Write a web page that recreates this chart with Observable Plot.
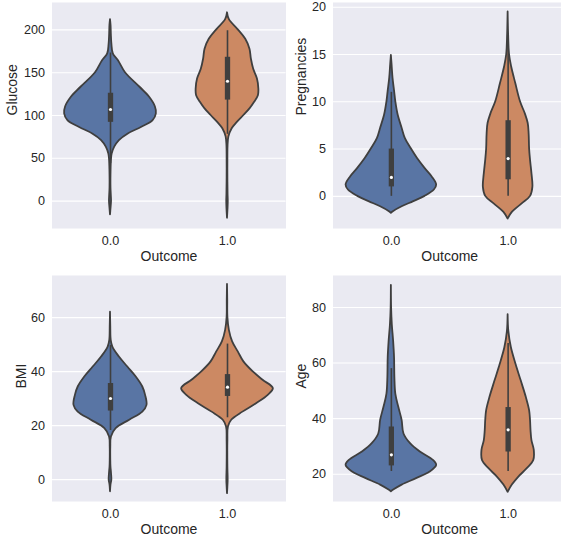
<!DOCTYPE html>
<html><head><meta charset="utf-8">
<script src="https://cdn.jsdelivr.net/npm/d3@7"></script>
<script src="https://cdn.jsdelivr.net/npm/@observablehq/plot@0.6"></script>
<style>
html,body{margin:0;padding:0;background:#fff;}
#wrap{position:relative;width:561px;height:542px;overflow:hidden;background:#fff;}
#wrap svg{position:absolute;}
</style></head><body><div id="wrap"></div>
<script>
// Categories on the x axis
const categories = ["0.0", "1.0"];
const outcomeCodes = [0, 1];

// Tick values
const glucoseTicks = [0, 50, 100, 150, 200];
const pregTicks = [0, 5, 10, 15, 20];
const bmiTicks = [0, 20, 40, 60];
const ageTicks = [20, 40, 60, 80];

// Violin profiles: [value, relative density width (1 = widest)]
const glucoseViolin0 = [[212,0],[205,0.012],[195,0.018],[183,0.03],[172,0.06],[164,0.17],[150,0.32],[133,0.63],[121,0.84],[110,0.96],[102,0.98],[94,0.91],[86,0.66],[78.5,0.38],[70.7,0.19],[63,0.09],[55,0.035],[48,0.02],[36,0.012],[16,0.01],[6,0.018],[0,0.022],[-8,0.012],[-16,0]];
const glucoseViolin1 = [[220,0],[212,0.04],[200,0.23],[189,0.39],[177.5,0.48],[166,0.51],[154,0.56],[142.6,0.64],[131,0.67],[123,0.66],[115.5,0.58],[107.8,0.48],[100,0.35],[92,0.21],[84.5,0.1],[75,0.03],[65,0.012],[50,0.008],[27,0.008],[8,0.012],[0,0.016],[-8,0.012],[-20,0]];
const pregViolin0 = [[14.9,0],[13.9,0.015],[12.5,0.035],[11.05,0.07],[10,0.095],[8.6,0.145],[7.2,0.23],[6.1,0.30],[5,0.43],[4,0.56],[2.96,0.72],[2.08,0.87],[1.2,0.97],[0.67,0.92],[0,0.72],[-0.56,0.48],[-1.1,0.23],[-1.6,0.05],[-1.8,0]];
const pregViolin1 = [[19.5,0],[17.2,0.01],[15,0.03],[13.7,0.075],[11.9,0.165],[10,0.265],[8.7,0.37],[7.7,0.43],[6.6,0.45],[5,0.46],[3.8,0.48],[2.4,0.51],[0.95,0.53],[0,0.48],[-0.8,0.30],[-1.7,0.09],[-2.4,0]];
const bmiViolin0 = [[62,0],[56.5,0.006],[51.6,0.015],[49.1,0.05],[45.4,0.19],[41.7,0.37],[38,0.55],[34.3,0.69],[31.2,0.75],[27.5,0.78],[25,0.69],[22,0.41],[18.9,0.12],[15.8,0.02],[12,0.006],[7,0.006],[4.7,0.01],[2.2,0.022],[-0.2,0.028],[-2,0.01],[-4.5,0]];
const bmiViolin1 = [[72.3,0],[66.4,0.005],[60.1,0.008],[55.3,0.04],[51,0.11],[47.3,0.23],[43.6,0.35],[39.9,0.55],[36.8,0.76],[33.7,0.98],[31.2,0.87],[28.1,0.62],[25,0.33],[22,0.09],[19.5,0.02],[14.6,0.008],[4.7,0.008],[0,0.014],[-2.7,0.008],[-5.2,0]];
const ageViolin0 = [[87.9,0],[79.8,0.005],[73.8,0.02],[67.9,0.048],[61.9,0.068],[54.8,0.075],[48.8,0.095],[44,0.16],[39.4,0.23],[34.5,0.27],[31,0.41],[28,0.62],[25,0.90],[23.2,0.97],[20.8,0.83],[18.5,0.55],[16.1,0.23],[14.3,0.05],[13.7,0]];
const ageViolin1 = [[77.4,0],[71.4,0.015],[65.5,0.07],[59.5,0.17],[53.6,0.28],[47.6,0.39],[42.9,0.46],[39.3,0.48],[35.7,0.49],[32.1,0.51],[28.6,0.56],[25,0.55],[22,0.41],[19,0.23],[16.1,0.09],[13.5,0]];

// Box stats: [whisker low, Q1, median, Q3, whisker high]
const glucoseBox0 = [44, 92, 107, 126, 173];
const glucoseBox1 = [78, 118, 140, 168, 199];
const pregBox0 = [0, 1, 2, 5, 11];
const pregBox1 = [0, 1.75, 4, 8, 17];
const bmiBox0 = [18.2, 25.4, 30.05, 35.6, 49.7];
const bmiBox1 = [22.9, 30.8, 34.25, 38.9, 50.2];
const ageBox0 = [21, 23, 27, 37, 58];
const ageBox1 = [21, 28, 36, 44, 67];

const fillColors = ["#5975A4", "#CC8963"];
const outline = "#3f3f3f";
const font = "'Liberation Sans', Arial, sans-serif";

function panel(cfg) {
  const rows = [];
  cfg.violins.forEach((pts, i) => pts.forEach(([v, d]) => rows.push({cat: i, v, d})));
  const boxRows = cfg.boxes.map((b, i) => ({cat: i, lo: b[0], q1: b[1], med: b[2], q3: b[3], hi: b[4]}));
  const hw = 0.4;
  const chart = Plot.plot({
    width: cfg.width, height: cfg.height,
    marginLeft: cfg.ml, marginRight: cfg.mr, marginTop: cfg.mt, marginBottom: cfg.mb,
    style: {background: "none", fontFamily: font, fontSize: "12.6px", color: "#262626", overflow: "visible"},
    x: {domain: [-0.5, 1.5], axis: null},
    y: {domain: cfg.domain, axis: null},
    color: {type: "ordinal", domain: outcomeCodes, range: fillColors},
    marks: [
      Plot.frame({fill: "#EAEAF2", stroke: null}),
      Plot.gridY(cfg.ticks, {stroke: "white", strokeOpacity: 1, strokeWidth: 1.1}),
      Plot.axisY(cfg.ticks, {tickSize: 0, tickPadding: 7, label: null, fontSize: 12.6}),
      Plot.axisX(outcomeCodes, {tickSize: 0, tickPadding: 8, label: null, fontSize: 12.6, tickFormat: i => categories[i]}),
      Plot.areaX(rows, {
        y: "v", x1: r => r.cat - r.d * hw, x2: r => r.cat + r.d * hw,
        z: "cat", fill: "cat", stroke: outline, strokeWidth: 1.8, curve: "catmull-rom"
      }),
      Plot.ruleX(boxRows, {x: "cat", y1: "lo", y2: "hi", stroke: outline, strokeWidth: 1.6}),
      Plot.ruleX(boxRows, {x: "cat", y1: "q1", y2: "q3", stroke: outline, strokeWidth: 5.3}),
      Plot.dot(boxRows, {x: "cat", y: "med", r: 1.6, fill: "white", stroke: null}),
      Plot.text(["Outcome"], {frameAnchor: "bottom", dy: 28, lineAnchor: "middle", fontSize: 14, fill: "#262626"}),
      Plot.text([cfg.label], {frameAnchor: "left", rotate: -90, dx: -cfg.labelOffset, lineAnchor: "middle", fontSize: 14, fill: "#262626"})
    ]
  });
  chart.style.left = cfg.left + "px";
  chart.style.top = cfg.top + "px";
  document.getElementById("wrap").appendChild(chart);
}

panel({label: "Glucose", ticks: glucoseTicks, domain: [-32, 232], violins: [glucoseViolin0, glucoseViolin1], boxes: [glucoseBox0, glucoseBox1],
  left: 0, top: 0, width: 286, height: 270, ml: 51.5, mr: 0.5, mt: 2, mb: 42, labelOffset: 39});
panel({label: "Pregnancies", ticks: pregTicks, domain: [-3.4, 20.5], violins: [pregViolin0, pregViolin1], boxes: [pregBox0, pregBox1],
  left: 280, top: 0, width: 290, height: 270, ml: 52.5, mr: 4, mt: 2, mb: 42, labelOffset: 31});
panel({label: "BMI", ticks: bmiTicks, domain: [-8.1, 75.6], violins: [bmiViolin0, bmiViolin1], boxes: [bmiBox0, bmiBox1],
  left: 0, top: 270, width: 286, height: 272, ml: 51.5, mr: 0.5, mt: 5, mb: 41, labelOffset: 30});
panel({label: "Age", ticks: ageTicks, domain: [10.2, 91.5], violins: [ageViolin0, ageViolin1], boxes: [ageBox0, ageBox1],
  left: 280, top: 270, width: 290, height: 272, ml: 52.5, mr: 4, mt: 5, mb: 41, labelOffset: 31});
</script>
</body></html>
